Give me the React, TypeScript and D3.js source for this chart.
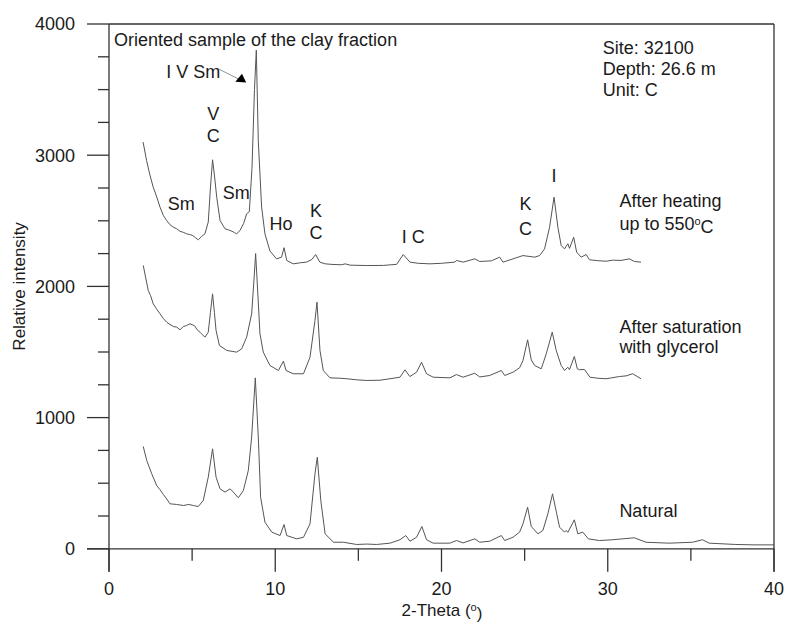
import React from "react";
import * as d3 from "d3";

// 2-theta (deg), relative intensity
const heated: [number, number][] = [
  [2.05, 3100], [2.26, 2960], [2.46, 2850], [2.66, 2756], [2.85, 2690], [3.07, 2604], [3.27, 2540],
  [3.47, 2502], [3.67, 2470], [3.87, 2451], [4.07, 2440], [4.27, 2420], [4.47, 2412], [4.67, 2401],
  [4.85, 2395], [5.0, 2390], [5.2, 2372], [5.37, 2355], [5.57, 2380], [5.77, 2401], [5.97, 2490],
  [6.1, 2750], [6.23, 2965], [6.34, 2850], [6.48, 2680], [6.68, 2502], [6.98, 2439], [7.2, 2430],
  [7.4, 2420], [7.55, 2410], [7.68, 2401], [7.88, 2426], [8.1, 2480], [8.28, 2553], [8.44, 2570],
  [8.6, 2900], [8.75, 3500], [8.86, 3800], [8.98, 3110], [9.18, 2604], [9.38, 2401], [9.68, 2270],
  [10.08, 2210], [10.38, 2223], [10.53, 2295], [10.69, 2198], [11.08, 2172], [11.5, 2180], [11.88, 2185],
  [12.2, 2205], [12.43, 2243], [12.68, 2185], [13.0, 2172], [13.48, 2167], [14.0, 2165], [14.2, 2172],
  [14.5, 2162], [15.5, 2159], [16.5, 2160], [17.3, 2168], [17.7, 2243], [18.1, 2185], [18.6, 2176],
  [19.3, 2172], [20.0, 2176], [20.8, 2185], [20.9, 2198], [21.3, 2185], [22.0, 2210], [22.3, 2190],
  [23.0, 2195], [23.5, 2223], [23.7, 2185], [24.3, 2210], [24.9, 2235], [25.6, 2223], [25.9, 2235],
  [26.2, 2286], [26.5, 2451], [26.77, 2680], [27.0, 2451], [27.2, 2312], [27.4, 2286], [27.6, 2325],
  [27.7, 2290], [27.95, 2375], [28.13, 2261], [28.4, 2223], [28.7, 2243], [28.9, 2203], [29.4, 2196],
  [29.9, 2192], [30.3, 2200], [30.8, 2198], [31.3, 2210], [31.6, 2190], [32.0, 2185],
];

const glycerol: [number, number][] = [
  [2.06, 2160], [2.36, 1969], [2.5, 1930], [2.66, 1867], [2.85, 1830], [3.07, 1791], [3.27, 1755],
  [3.47, 1727], [3.67, 1710], [3.87, 1694], [4.07, 1690], [4.27, 1669], [4.47, 1694], [4.67, 1702],
  [4.87, 1715], [5.15, 1700], [5.3, 1670], [5.47, 1651], [5.77, 1613], [5.97, 1651], [6.1, 1800],
  [6.23, 1943], [6.34, 1800], [6.44, 1664], [6.64, 1550], [7.08, 1512], [7.4, 1505], [7.68, 1499],
  [7.98, 1524], [8.28, 1613], [8.58, 1791], [8.72, 2050], [8.82, 2250], [8.95, 1950], [9.08, 1639],
  [9.28, 1499], [9.68, 1397], [10.19, 1359], [10.49, 1430], [10.65, 1359], [11.08, 1334], [11.7, 1334],
  [12.09, 1460], [12.39, 1740], [12.51, 1880], [12.69, 1511], [12.89, 1359], [13.29, 1303], [13.9, 1300],
  [14.3, 1296], [14.9, 1288], [15.5, 1283], [16.3, 1285], [16.9, 1296], [17.5, 1308], [17.8, 1364],
  [18.1, 1313], [18.5, 1346], [18.8, 1422], [19.1, 1334], [19.5, 1308], [20.5, 1303], [20.9, 1328],
  [21.3, 1308], [22.0, 1338], [22.3, 1310], [22.9, 1321], [23.6, 1359], [23.8, 1321], [24.3, 1346],
  [24.7, 1380], [24.9, 1435], [25.18, 1593], [25.4, 1440], [25.6, 1397], [26.0, 1372], [26.3, 1486],
  [26.66, 1651], [26.9, 1512], [27.2, 1397], [27.4, 1359], [27.6, 1384], [27.7, 1365], [27.99, 1466],
  [28.17, 1372], [28.3, 1365], [28.6, 1367], [28.93, 1308], [29.4, 1300], [29.9, 1296], [30.7, 1313],
  [31.1, 1318], [31.5, 1334], [32.0, 1296],
];

const natural: [number, number][] = [
  [2.06, 780], [2.27, 673], [2.57, 572], [2.87, 482], [3.07, 450], [3.27, 414], [3.47, 380], [3.67, 343],
  [4.07, 338], [4.47, 330], [4.8, 338], [5.07, 330], [5.37, 322], [5.67, 368], [5.97, 546], [6.23, 762],
  [6.44, 546], [6.68, 457], [6.98, 432], [7.28, 457], [7.48, 432], [7.78, 389], [8.08, 444], [8.38, 597],
  [8.58, 851], [8.8, 1303], [8.98, 851], [9.12, 393], [9.38, 203], [9.79, 127], [10.29, 101], [10.53, 185],
  [10.69, 101], [11.29, 76], [11.7, 88], [12.09, 190], [12.39, 572], [12.53, 698], [12.74, 368], [13.0, 114],
  [13.5, 50], [14.1, 50], [14.9, 33], [15.5, 36], [16.1, 33], [16.9, 43], [17.5, 69], [17.85, 101],
  [18.1, 58], [18.5, 88], [18.82, 170], [19.1, 69], [19.5, 43], [20.5, 43], [20.9, 63], [21.3, 45],
  [22.0, 76], [22.3, 50], [22.9, 58], [23.6, 101], [23.8, 63], [24.3, 88], [24.7, 127], [24.9, 190],
  [25.18, 317], [25.4, 170], [25.8, 114], [26.1, 140], [26.4, 267], [26.68, 419], [26.93, 267], [27.1, 165],
  [27.4, 127], [27.5, 140], [27.6, 125], [27.99, 221], [28.2, 114], [28.5, 127], [28.83, 76], [29.5, 63],
  [30.3, 69], [30.9, 76], [31.6, 84], [32.3, 50], [33.7, 43], [35.1, 50], [35.7, 69], [36.1, 43],
  [37.7, 33], [38.8, 30], [40.0, 30],
];

const xTicks = [0, 10, 20, 30, 40];
const xMinor = [5, 15, 25, 35];
const yTicks = [0, 1000, 2000, 3000, 4000];
const yMinor = d3.range(250, 4000, 250).filter((v) => v % 1000 !== 0);

// mineral labels: [text, x (2-theta), y (intensity)]
const peakLabels: [string, number, number][] = [
  ["V", 6.27, 3315], ["C", 6.27, 3150], ["Sm", 4.35, 2630], ["Sm", 7.65, 2715],
  ["Ho", 10.35, 2480], ["K", 12.45, 2580], ["C", 12.45, 2410], ["I C", 18.3, 2380],
  ["K", 25.05, 2630], ["C", 25.05, 2440], ["I", 26.77, 2845],
];

const sampleLabels: [string, number, number][] = [
  ["After heating", 30.7, 2650], ["up to 550", 30.7, 2480],
  ["After saturation", 30.7, 1690], ["with glycerol", 30.7, 1540],
  ["Natural", 30.7, 290],
];

const siteLines = ["Site: 32100", "Depth: 26.6 m", "Unit: C"];

const W = 787;
const H = 624;
const FONT = "Liberation Sans, Arial, sans-serif";

export default function App() {
  const x = d3.scaleLinear().domain([0, 40]).range([109, 774]);
  const y = d3.scaleLinear().domain([0, 4000]).range([548.8, 24]);
  const line = d3
    .line<[number, number]>()
    .x((d) => x(d[0]))
    .y((d) => y(d[1]));

  const axisColor = "#333";
  const textColor = "#1a1a1a";

  return (
    <svg
      width={W}
      height={H}
      style={{ position: "absolute", left: 0, top: 0, background: "#fff" }}
      fontFamily={FONT}
    >
      {/* traces */}
      {[heated, glycerol, natural].map((s, i) => (
        <path key={i} d={line(s) || ""} fill="none" stroke="#555" strokeWidth={1} />
      ))}

      {/* frame & axes */}
      <g stroke={axisColor} strokeWidth={1.3} fill="none">
        <line x1={x(0)} x2={x(40)} y1={y(4000)} y2={y(4000)} />
        <line x1={x(40)} x2={x(40)} y1={y(4000)} y2={y(0) + 23} />
        <line x1={x(0)} x2={x(0)} y1={y(4000)} y2={y(0) + 23} />
        <line x1={x(0) - 22} x2={x(40)} y1={y(0)} y2={y(0)} />
        {yTicks.map((t) => (
          <line key={"yt" + t} x1={x(0) - 22} x2={x(0)} y1={y(t)} y2={y(t)} />
        ))}
        {yMinor.map((t) => (
          <line key={"ym" + t} x1={x(0) - 11} x2={x(0)} y1={y(t)} y2={y(t)} />
        ))}
        {xTicks.map((t) => (
          <line key={"xt" + t} x1={x(t)} x2={x(t)} y1={y(0)} y2={y(0) + 23} />
        ))}
        {xMinor.map((t) => (
          <line key={"xm" + t} x1={x(t)} x2={x(t)} y1={y(0)} y2={y(0) + 12} />
        ))}
      </g>

      {/* tick labels */}
      <g fill={textColor} fontSize={18}>
        {yTicks.map((t) => (
          <text key={"yl" + t} x={x(0) - 34} y={y(t)} dy="0.35em" textAnchor="end">
            {t}
          </text>
        ))}
        {xTicks.map((t) => (
          <text key={"xl" + t} x={x(t)} y={y(0) + 40} dy="0.35em" textAnchor="middle">
            {t}
          </text>
        ))}
      </g>

      {/* axis titles */}
      <text
        x={442}
        y={610}
        dy="0.35em"
        textAnchor="middle"
        fontSize={17}
        fill={textColor}
      >
        2-Theta (
        <tspan fontSize={11} dy="-0.45em">o</tspan>
        <tspan dy="0.45em">)</tspan>
      </text>
      <text
        transform={`translate(19,${y(2000)}) rotate(-90)`}
        dy="0.35em"
        textAnchor="middle"
        fontSize={17}
        fill={textColor}
      >
        Relative intensity
      </text>

      {/* annotations */}
      <g fill={textColor} fontSize={18}>
        <text x={x(0) + 5} y={y(3880)} dy="0.35em">
          Oriented sample of the clay fraction
        </text>
        {siteLines.map((s, i) => (
          <text key={s} x={x(29.7)} y={y(3820 - i * 160)} dy="0.35em">
            {s}
          </text>
        ))}
        {peakLabels.map(([s, px, py], i) => (
          <text key={"p" + i} x={x(px)} y={y(py)} dy="0.35em" textAnchor="middle">
            {s}
          </text>
        ))}
        {sampleLabels.map(([s, px, py], i) => (
          <text key={"s" + i} x={x(px)} y={y(py)} dy="0.35em">
            {s}
            {s === "up to 550" ? (
              <>
                <tspan fontSize={11} dy="-0.45em">o</tspan>
                <tspan dy="0.45em">C</tspan>
              </>
            ) : null}
          </text>
        ))}
        <text x={x(3.45)} y={y(3635)} dy="0.35em">
          I V Sm
        </text>
        <line
          x1={x(6.55)}
          y1={y(3660)}
          x2={x(7.8)}
          y2={y(3580)}
          stroke="#777"
          strokeWidth={0.8}
        />
        <path
          d={`M${x(7.6)},${y(3560)} L${x(8.25)},${y(3555)} L${x(8.0)},${y(3620)} Z`}
          fill="#000"
        />
      </g>
    </svg>
  );
}
